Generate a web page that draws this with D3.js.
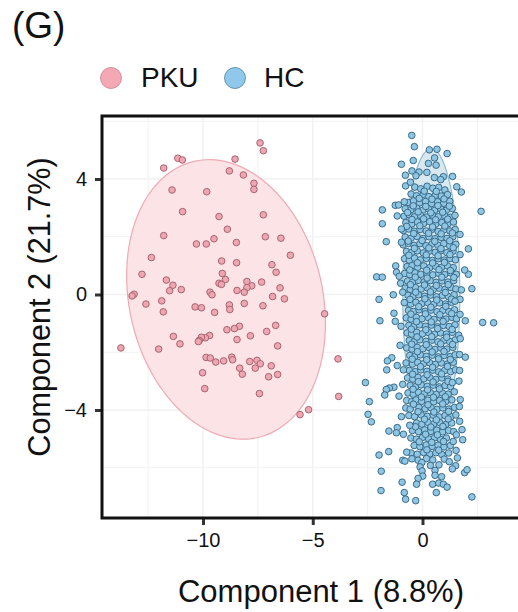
<!DOCTYPE html>
<html><head><meta charset="utf-8">
<script src="https://cdn.jsdelivr.net/npm/d3@7"></script>
<style>html,body{margin:0;padding:0;background:#fff;overflow:hidden}svg{display:block}text{font-family:"Liberation Sans",Arial,sans-serif;fill:#111}</style>
</head><body><svg id="c" width="518" height="612"></svg>
<script>
const seriesNames = ["PKU", "HC"];
const xTicks = [-10, -5, 0];
const yTicks = [4, 0, -4];
const xGrid = [-12.5, -10, -7.5, -5, -2.5, 0, 2.5];
const yGrid = [6, 4, 2, 0, -2, -4, -6];
const pkuPoints = [[-7.40,5.25],[-7.25,4.98],[-11.15,4.72],[-10.94,4.66],[-8.54,4.69],[-11.79,4.38],[-8.80,4.28],[-8.16,4.14],[-7.68,3.85],[-7.68,3.64],[-11.41,3.62],[-9.83,3.56],[-10.93,2.87],[-9.27,2.70],[-7.25,2.76],[-8.89,2.26],[-11.79,2.04],[-9.50,1.93],[-10.30,1.75],[-9.85,1.75],[-8.48,1.80],[-7.16,2.00],[-6.45,1.95],[-12.35,1.28],[-6.02,1.36],[-9.15,1.16],[-8.47,1.10],[-6.86,1.03],[-6.67,0.77],[-12.78,0.70],[-9.12,0.73],[-11.67,0.50],[-8.98,0.52],[-8.00,0.45],[-7.33,0.43],[-11.37,0.32],[-9.27,0.39],[-9.16,0.35],[-7.78,0.30],[-8.00,0.24],[-6.49,0.23],[-11.52,0.13],[-10.99,0.17],[-8.45,0.14],[-8.12,0.08],[-9.68,0.08],[-9.59,-0.01],[-13.14,0.01],[-13.23,-0.05],[-6.83,-0.07],[-6.29,-0.15],[-11.88,-0.22],[-12.60,-0.33],[-8.80,-0.36],[-8.12,-0.31],[-7.27,-0.39],[-10.36,-0.43],[-10.07,-0.46],[-8.78,-0.52],[-11.81,-0.60],[-9.47,-0.62],[-4.46,-0.67],[-8.34,-1.10],[-8.57,-1.18],[-8.91,-1.22],[-6.69,-1.07],[-7.10,-1.28],[-9.70,-1.42],[-9.89,-1.50],[-10.07,-1.48],[-10.17,-1.59],[-10.21,-1.63],[-11.35,-1.45],[-11.05,-1.71],[-8.45,-1.56],[-7.84,-1.43],[-6.60,-1.78],[-13.74,-1.85],[-12.02,-1.89],[-9.86,-2.18],[-9.67,-2.20],[-9.42,-2.34],[-9.06,-2.30],[-8.69,-2.17],[-8.65,-2.26],[-7.87,-2.32],[-7.54,-2.28],[-7.39,-2.40],[-7.62,-2.55],[-8.33,-2.55],[-6.89,-2.47],[-8.21,-2.76],[-7.01,-2.85],[-6.60,-2.77],[-10.02,-2.71],[-9.92,-3.26],[-7.43,-3.43],[-5.19,-3.99],[-5.58,-4.16],[-3.85,-2.23],[-3.82,-3.53]];
// HC: points readable around the edge of the cloud
const hcEdge = [[-0.49,5.51],[-0.37,5.12],[0.31,5.01],[0.66,5.03],[1.12,4.88],[0.55,4.73],[-0.42,4.64],[-0.96,4.51],[0.27,4.54],[0.62,4.48],[-0.48,4.28],[-0.16,4.24],[0.20,4.23],[-0.78,4.13],[1.37,4.09],[-0.30,4.11],[0.54,4.05],[0.95,4.08],[0.83,3.98],[-0.77,3.76],[-0.55,3.89],[1.56,3.73],[1.77,3.55],[2.67,2.88],[-1.83,2.93],[-1.83,2.45],[-1.24,3.09],[-1.09,3.10],[-0.83,3.21],[-1.15,2.72],[-1.65,1.83],[1.71,2.08],[2.09,1.58],[1.71,1.38],[-0.96,2.27],[-0.96,1.81],[-1.22,0.99],[-1.18,0.77],[-1.06,0.63],[-2.09,0.61],[-1.83,0.60],[-1.00,0.39],[2.09,0.70],[1.92,0.85],[1.77,0.16],[2.25,0.20],[-1.33,-0.01],[-1.98,-0.17],[-0.90,0.08],[1.71,-0.17],[-0.83,-0.28],[1.48,-0.23],[-1.30,-0.65],[-1.94,-0.91],[2.74,-0.97],[3.24,-0.98],[-1.24,-0.93],[-0.98,-1.10],[1.95,-0.91],[1.71,-0.69],[1.65,-1.41],[1.72,-1.53],[-1.02,-1.76],[1.69,-2.08],[1.95,-2.17],[-1.40,-2.19],[-1.60,-2.30],[-1.15,-2.46],[-1.63,-2.61],[-0.87,-2.61],[1.69,-2.63],[-2.60,-3.05],[1.66,-3.00],[1.36,-3.05],[-0.90,-3.11],[-1.30,-3.21],[-1.51,-3.24],[-1.65,-3.29],[-1.72,-3.48],[-1.07,-3.52],[1.45,-3.37],[1.72,-3.64],[-2.42,-3.71],[1.68,-3.88],[-2.48,-4.15],[-2.33,-4.41],[-0.96,-4.23],[-0.58,-4.53],[1.69,-4.39],[1.80,-4.68],[-1.53,-4.73],[-1.15,-4.61],[-1.19,-4.79],[-0.87,-4.84],[1.83,-5.03],[1.54,-4.86],[1.40,-5.09],[-1.54,-5.44],[-1.98,-5.56],[-0.72,-5.46],[1.53,-5.40],[-0.90,-5.74],[-0.80,-5.77],[1.59,-5.66],[1.51,-5.93],[1.36,-6.04],[-1.88,-6.12],[1.92,-6.17],[2.03,-6.07],[-0.11,-5.97],[-0.02,-6.11],[0.01,-6.29],[-0.20,-6.37],[-0.27,-6.57],[-0.93,-6.50],[0.57,-6.09],[0.57,-6.26],[0.87,-6.31],[0.46,-6.57],[0.74,-6.53],[0.95,-6.57],[1.12,-6.67],[-1.89,-6.79],[-0.83,-6.86],[0.63,-6.86],[-0.77,-7.09],[-0.31,-7.14],[2.25,-7.01]];
// HC: the overlapping core cannot be read one by one, so these are hand estimates of its extent
const hcCore = [[-0.35,3.72],[-0.08,3.66],[0.21,3.75],[0.47,3.68],[0.74,3.71],[1.02,3.62],[-0.52,3.48],[-0.27,3.42],[0.03,3.47],[0.29,3.39],[0.58,3.44],[0.86,3.41],[1.14,3.46],[-0.66,3.19],[-0.41,3.24],[-0.14,3.17],[0.14,3.22],[0.41,3.15],[0.69,3.21],[0.97,3.16],[1.24,3.23],[-0.79,2.97],[-0.53,2.93],[-0.26,2.99],[0.02,2.92],[0.27,2.97],[0.55,2.91],[0.83,2.96],[1.09,2.92],[1.36,2.98],[-0.84,2.71],[-0.61,2.76],[-0.36,2.69],[-0.09,2.74],[0.19,2.68],[0.46,2.75],[0.72,2.69],[1.01,2.73],[1.27,2.67],[1.48,2.74],[-0.76,2.49],[-0.49,2.44],[-0.23,2.51],[0.05,2.46],[0.33,2.52],[0.59,2.43],[0.88,2.49],[1.16,2.45],[1.41,2.51],[-0.87,2.22],[-0.63,2.27],[-0.37,2.19],[-0.11,2.25],[0.17,2.2],[0.44,2.26],[0.71,2.18],[0.98,2.24],[1.25,2.2],[1.49,2.25],[-0.79,1.99],[-0.52,1.95],[-0.25,2.01],[0.03,1.94],[0.3,2.0],[0.57,1.93],[0.85,1.98],[1.12,1.94],[1.38,2.0],[-0.88,1.72],[-0.64,1.77],[-0.38,1.7],[-0.12,1.76],[0.16,1.69],[0.43,1.75],[0.7,1.71],[0.97,1.76],[1.24,1.69],[1.52,1.74],[-0.73,1.49],[-0.5,1.45],[-0.24,1.51],[0.04,1.44],[0.31,1.5],[0.58,1.46],[0.84,1.52],[1.11,1.45],[1.39,1.5],[-0.82,1.24],[-0.6,1.19],[-0.36,1.26],[-0.1,1.2],[0.18,1.25],[0.45,1.18],[0.72,1.24],[0.99,1.19],[1.26,1.25],[1.5,1.2],[-0.7,0.97],[-0.47,1.0],[-0.22,0.94],[0.06,0.99],[0.33,0.93],[0.6,0.98],[0.87,0.94],[1.14,0.99],[1.4,0.93],[-0.81,0.73],[-0.58,0.69],[-0.34,0.75],[-0.08,0.7],[0.2,0.74],[0.47,0.68],[0.74,0.73],[1.01,0.69],[1.28,0.75],[1.54,0.7],[-0.68,0.47],[-0.45,0.43],[-0.2,0.49],[0.08,0.44],[0.35,0.48],[0.62,0.42],[0.89,0.47],[1.16,0.43],[1.42,0.48],[-0.79,0.22],[-0.56,0.18],[-0.32,0.24],[-0.06,0.19],[0.22,0.23],[0.49,0.17],[0.76,0.22],[1.03,0.18],[1.3,0.24],[1.52,0.19],[-0.66,-0.03],[-0.43,-0.07],[-0.18,-0.01],[0.1,-0.06],[0.37,-0.02],[0.64,-0.08],[0.91,-0.03],[1.18,-0.07],[1.44,-0.01],[-0.72,-0.29],[-0.54,-0.33],[-0.3,-0.27],[-0.04,-0.32],[0.24,-0.28],[0.51,-0.34],[0.78,-0.29],[1.05,-0.33],[1.32,-0.27],[-0.64,-0.55],[-0.41,-0.59],[-0.16,-0.53],[0.12,-0.58],[0.39,-0.54],[0.66,-0.6],[0.93,-0.55],[1.2,-0.59],[1.46,-0.53],[-0.74,-0.81],[-0.52,-0.85],[-0.28,-0.79],[-0.02,-0.84],[0.26,-0.8],[0.53,-0.86],[0.8,-0.81],[1.07,-0.85],[1.34,-0.79],[1.55,-0.84],[-0.62,-1.07],[-0.39,-1.11],[-0.14,-1.05],[0.14,-1.1],[0.41,-1.06],[0.68,-1.12],[0.95,-1.07],[1.22,-1.11],[1.48,-1.05],[-0.7,-1.33],[-0.5,-1.37],[-0.26,-1.31],[0,-1.36],[0.28,-1.32],[0.55,-1.38],[0.82,-1.33],[1.09,-1.37],[1.36,-1.31],[-0.6,-1.59],[-0.37,-1.63],[-0.12,-1.57],[0.16,-1.62],[0.43,-1.58],[0.7,-1.64],[0.97,-1.59],[1.24,-1.63],[1.5,-1.57],[-0.72,-1.85],[-0.48,-1.89],[-0.24,-1.83],[0.02,-1.88],[0.3,-1.84],[0.57,-1.9],[0.84,-1.85],[1.11,-1.89],[1.38,-1.83],[-0.58,-2.11],[-0.35,-2.15],[-0.1,-2.09],[0.18,-2.14],[0.45,-2.1],[0.72,-2.16],[0.99,-2.11],[1.26,-2.15],[1.49,-2.09],[-0.75,-2.37],[-0.46,-2.41],[-0.22,-2.35],[0.04,-2.4],[0.32,-2.36],[0.59,-2.42],[0.86,-2.37],[1.13,-2.41],[1.4,-2.35],[-0.6,-2.63],[-0.33,-2.67],[-0.08,-2.61],[0.2,-2.66],[0.47,-2.62],[0.74,-2.68],[1.01,-2.63],[1.28,-2.67],[1.5,-2.61],[-0.68,-2.89],[-0.44,-2.93],[-0.2,-2.87],[0.06,-2.92],[0.34,-2.88],[0.61,-2.94],[0.88,-2.89],[1.15,-2.93],[-0.56,-3.15],[-0.31,-3.19],[-0.06,-3.13],[0.22,-3.18],[0.49,-3.14],[0.76,-3.2],[1.03,-3.15],[1.28,-3.19],[-0.66,-3.41],[-0.42,-3.45],[-0.18,-3.39],[0.08,-3.44],[0.36,-3.4],[0.63,-3.46],[0.9,-3.41],[1.17,-3.45],[-0.72,-3.67],[-0.49,-3.71],[-0.29,-3.65],[-0.04,-3.7],[0.24,-3.66],[0.51,-3.72],[0.78,-3.67],[1.05,-3.71],[1.34,-3.65],[-0.76,-3.93],[-0.56,-3.97],[-0.16,-3.91],[0.12,-3.96],[0.39,-3.92],[0.66,-3.98],[0.93,-3.93],[1.2,-3.97],[1.46,-3.91],[-0.62,-4.19],[-0.36,-4.23],[-0.06,-4.17],[0.22,-4.22],[0.49,-4.18],[0.76,-4.24],[1.03,-4.19],[1.3,-4.23],[1.52,-4.17],[-0.27,-4.45],[-0.03,-4.49],[0.25,-4.43],[0.52,-4.48],[0.79,-4.44],[1.06,-4.5],[1.33,-4.45],[-0.46,-4.71],[-0.18,-4.75],[0.1,-4.69],[0.38,-4.74],[0.65,-4.7],[0.92,-4.76],[1.19,-4.71],[1.42,-4.75],[-0.53,-4.97],[-0.28,-5.01],[0,-4.95],[0.28,-5],[0.55,-4.96],[0.82,-5.02],[1.09,-4.97],[-0.38,-5.23],[-0.12,-5.27],[0.17,-5.21],[0.44,-5.26],[0.71,-5.22],[0.98,-5.28],[1.27,-5.23],[-0.52,-5.49],[-0.24,-5.53],[0.05,-5.47],[0.33,-5.52],[0.61,-5.48],[0.88,-5.54],[1.19,-5.49],[-0.48,-5.69],[-0.2,-5.74],[0.18,-5.68],[0.47,-5.73],[0.99,-5.7],[-0.03,-5.82],[1.22,-5.79],[0.36,-5.92],[0.75,-5.9]];
const hcCoreFill = [[0.08,3.58],[0.63,3.57],[-0.15,3.33],[0.43,3.3],[0.98,3.31],[-0.42,3.07],[0.15,3.05],[0.7,3.08],[1.22,3.06],[-0.68,2.84],[-0.2,2.86],[0.38,2.83],[0.92,2.85],[-0.48,2.6],[0.05,2.62],[0.6,2.59],[1.15,2.61],[-0.72,2.36],[-0.12,2.38],[0.46,2.34],[1.02,2.37],[-0.4,2.11],[0.28,2.12],[0.85,2.1],[1.36,2.13],[-0.65,1.85],[-0.02,1.87],[0.56,1.84],[1.24,1.86],[-0.37,1.6],[0.29,1.61],[0.84,1.59],[1.4,1.62],[-0.62,1.36],[0.17,1.37],[0.71,1.34],[1.25,1.38],[-0.23,1.1],[0.46,1.09],[1.0,1.11],[-0.58,0.85],[0.19,0.84],[0.75,0.86],[1.27,0.83],[-0.33,0.6],[0.21,0.57],[0.88,0.6],[1.43,0.59],[-0.55,0.34],[0.09,0.33],[0.63,0.31],[1.17,0.34],[-0.31,0.08],[0.36,0.09],[1.04,0.07],[-0.57,-0.17],[0.11,-0.15],[0.65,-0.19],[1.32,-0.16],[-0.17,-0.42],[0.38,-0.44],[1.06,-0.41],[-0.53,-0.68],[0.13,-0.67],[0.79,-0.7],[1.33,-0.66],[-0.27,-0.94],[0.4,-0.95],[0.94,-0.93],[-0.51,-1.2],[0.15,-1.22],[0.69,-1.18],[1.35,-1.21],[-0.25,-1.47],[0.42,-1.46],[1.1,-1.48],[-0.49,-1.72],[0.17,-1.74],[0.83,-1.71],[1.37,-1.73],[-0.23,-1.98],[0.44,-1.99],[0.98,-1.97],[-0.47,-2.24],[0.19,-2.26],[0.73,-2.23],[1.27,-2.25],[-0.09,-2.5],[0.46,-2.52],[1.14,-2.49],[-0.45,-2.76],[0.21,-2.78],[0.87,-2.75],[-0.19,-3.02],[0.48,-3.03],[1.16,-3.01],[-0.43,-3.28],[0.23,-3.3],[0.77,-3.27],[-0.05,-3.55],[0.5,-3.56],[1.04,-3.54],[-0.41,-3.8],[0.25,-3.82],[0.92,-3.79],[-0.2,-4.06],[0.52,-4.07],[1.19,-4.05],[0.09,-4.32],[0.63,-4.34],[1.17,-4.31],[-0.32,-4.58],[0.38,-4.59],[0.93,-4.57],[0.14,-4.84],[0.68,-4.86],[-0.15,-5.1],[0.42,-5.12],[0.96,-5.09],[0.2,-5.38],[0.74,-5.39]];
// Ellipses: centre, half-extent in x and y, correlation (drawn underneath, mostly hidden for HC)
const pkuEllipse = [-8.95, -0.17, 4.53, 4.84, -0.17];
const hcEllipse = [0.40, 0.00, 1.30, 5.05, 0.00];

const x = d3.scaleLinear().domain([-10, 0]).range([203, 422.5]);
const y = d3.scaleLinear().domain([4, -4]).range([179, 410]);
const panel = {l:102, t:116, b:518, r:534};
const svg = d3.select("#c");
const colours = {PKU:{fill:"#eea7b2",stroke:"#a8636f",eFill:"#fbe3e6",eStroke:"#eeaab4",lFill:"#f4a8b4",lStroke:"#c98b96"},
                 HC:{fill:"#8fc6e4",stroke:"#3a6b88",eFill:"#d8e8ee",eStroke:"#8ebdd2",lFill:"#8fc8ea",lStroke:"#5d8ba6"}};

svg.append("g").selectAll("line").data(xGrid).join("line")
  .attr("x1",d=>x(d)).attr("x2",d=>x(d)).attr("y1",panel.t).attr("y2",panel.b)
  .attr("stroke","#f1f1f1").attr("stroke-width",d=>d%5===0?1.5:1);
svg.append("g").selectAll("line").data(yGrid).join("line")
  .attr("y1",d=>y(d)).attr("y2",d=>y(d)).attr("x1",panel.l).attr("x2",panel.r)
  .attr("stroke","#f1f1f1").attr("stroke-width",d=>d%4===0?1.5:1);

function ellipse([cx,cy,ex,ey,r]){
  return d3.range(0,121).map(i=>{const t=i/120*2*Math.PI;
    return [cx+ex*Math.cos(t), cy+ey*(r*Math.cos(t)+Math.sqrt(1-r*r)*Math.sin(t))];});
}
const line=d3.line().x(d=>x(d[0])).y(d=>y(d[1]));
const hcPoints=hcCore.concat(hcCoreFill,hcEdge);
const groups=[["PKU",pkuPoints,pkuEllipse],["HC",hcPoints,hcEllipse]];
svg.append("defs").append("clipPath").attr("id","p").append("rect")
  .attr("x",panel.l).attr("y",panel.t).attr("width",panel.r-panel.l).attr("height",panel.b-panel.t);
const plot=svg.append("g").attr("clip-path","url(#p)");
groups.forEach(([name,pts,e])=>{
  plot.append("path").attr("d",line(ellipse(e))+"Z")
    .attr("fill",colours[name].eFill).attr("stroke",colours[name].eStroke).attr("stroke-width",1.2);
});
groups.forEach(([name,pts])=>{
  plot.append("g").selectAll("circle").data(pts).join("circle")
    .attr("cx",d=>x(d[0])).attr("cy",d=>y(d[1])).attr("r",3.3)
    .attr("fill",colours[name].fill).attr("stroke",colours[name].stroke).attr("stroke-width",1);
});

const ax=svg.append("g").attr("transform",`translate(0,${panel.b})`)
  .call(d3.axisBottom(x).tickValues(xTicks).tickFormat(d3.format("d")).tickSize(7).tickPadding(8));
const ay=svg.append("g").attr("transform",`translate(${panel.l},0)`)
  .call(d3.axisLeft(y).tickValues(yTicks).tickFormat(d3.format("d")).tickSize(7).tickPadding(8));
[ax,ay].forEach(g=>{g.select(".domain").remove();
  g.selectAll("line").attr("stroke","#333").attr("stroke-width",3);
  g.selectAll("text").attr("font-size",20).style("font-family",'"Liberation Sans",Arial,sans-serif').attr("fill","#111");});

svg.append("path").attr("d",`M${panel.r},${panel.t}H${panel.l}V${panel.b}H${panel.r}`)
  .attr("fill","none").attr("stroke","#111").attr("stroke-width",3);

svg.append("text").attr("x",12).attr("y",38).attr("font-size",37).text("(G)");
svg.append("text").attr("x",321).attr("y",602).attr("text-anchor","middle").attr("font-size",31).text("Component 1 (8.8%)");
svg.append("text").attr("transform","translate(50,307) rotate(-90)").attr("text-anchor","middle").attr("font-size",30.6).text("Component 2 (21.7%)");

const legendX={PKU:[111,141],HC:[235,264]};
seriesNames.forEach(n=>{
  svg.append("circle").attr("cx",legendX[n][0]).attr("cy",78).attr("r",10.5)
    .attr("fill",colours[n].lFill).attr("stroke",colours[n].lStroke).attr("stroke-width",0.9);
  svg.append("text").attr("x",legendX[n][1]).attr("y",87).attr("font-size",28).text(n);
});
</script></body></html>
